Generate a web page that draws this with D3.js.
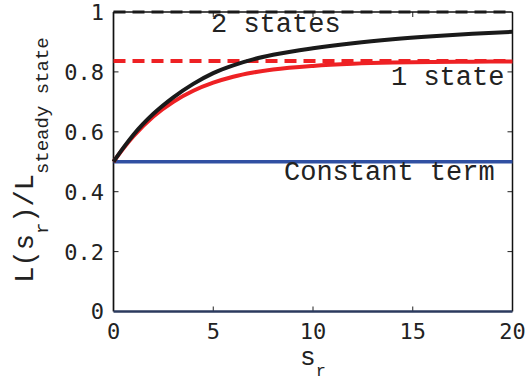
<!DOCTYPE html>
<html>
<head>
<meta charset="utf-8">
<script src="https://cdn.jsdelivr.net/npm/d3@7"></script>
<style>
  html, body { margin: 0; padding: 0; background: #fff; }
  svg { display: block; }
</style>
</head>
<body>
<svg id="chart" width="528" height="383"></svg>
<script>
// Sampled relaxation curves L(s_r)/L_steady state
const sr = [0, 0.5, 1, 2, 3, 4, 5, 6, 7, 8, 10, 12, 14, 16, 18, 20];
const twoStates = [0.5, 0.547, 0.590, 0.660, 0.715, 0.760, 0.796, 0.822, 0.842, 0.857, 0.879, 0.896, 0.909, 0.919, 0.927, 0.934];
const oneState  = [0.5, 0.545, 0.585, 0.651, 0.700, 0.737, 0.764, 0.784, 0.798, 0.808, 0.820, 0.827, 0.831, 0.833, 0.834, 0.835];
const constantTerm = 0.5;
const steadyTwo = 1.0;
const steadyOne = 0.836;
const xTicks = [0, 5, 10, 15, 20];
const yTicks = [0, 0.2, 0.4, 0.6, 0.8, 1];

const svg = d3.select("#chart");
const x = d3.scaleLinear().domain([0, 20]).range([113.5, 512.5]);
const y = d3.scaleLinear().domain([0, 1]).range([311.5, 12]);

const mono = "'Liberation Mono', 'Courier New', monospace";
const tickFont = "'DejaVu Sans Mono', monospace";

// Tick marks (inward) on all four sides
const tickLen = 5;
const g = svg.append("g");
yTicks.slice(1, -1).forEach(v => {
  g.append("line").attr("x1", x(0)).attr("x2", x(0) + tickLen).attr("y1", y(v)).attr("y2", y(v))
    .attr("stroke", "#222").attr("stroke-width", 1);
  g.append("line").attr("x1", x(20)).attr("x2", x(20) - tickLen).attr("y1", y(v)).attr("y2", y(v))
    .attr("stroke", "#222").attr("stroke-width", 1);
});
xTicks.slice(1, -1).forEach(v => {
  g.append("line").attr("x1", x(v)).attr("x2", x(v)).attr("y1", y(0)).attr("y2", y(0) - tickLen)
    .attr("stroke", "#222").attr("stroke-width", 1);
  g.append("line").attr("x1", x(v)).attr("x2", x(v)).attr("y1", y(1)).attr("y2", y(1) + tickLen)
    .attr("stroke", "#222").attr("stroke-width", 1);
});

// Tick labels
svg.append("g").selectAll("text").data(yTicks).join("text")
  .attr("x", 104).attr("y", d => y(d)).attr("dy", "0.36em")
  .attr("text-anchor", "end")
  .attr("font-family", tickFont).attr("font-size", 22).attr("fill", "#222")
  .text(d => d3.format("")(d));
svg.append("g").selectAll("text").data(xTicks).join("text")
  .attr("x", d => x(d)).attr("y", 339)
  .attr("text-anchor", "middle")
  .attr("font-family", tickFont).attr("font-size", 22).attr("fill", "#222")
  .text(d => d);

// Box
svg.append("line").attr("x1", x(0)).attr("x2", x(20)).attr("y1", y(1)).attr("y2", y(1))
  .attr("stroke", "#111").attr("stroke-width", 1.5);
svg.append("line").attr("x1", x(20)).attr("x2", x(20)).attr("y1", y(1)).attr("y2", y(0))
  .attr("stroke", "#111").attr("stroke-width", 1.5);
svg.append("line").attr("x1", x(0)).attr("x2", x(0)).attr("y1", y(1)).attr("y2", y(0))
  .attr("stroke", "#111").attr("stroke-width", 1.7);

const line = d3.line().x(d => x(d[0])).y(d => y(d[1])).curve(d3.curveMonotoneX);

// Constant term
svg.append("line").attr("x1", x(0)).attr("x2", x(20)).attr("y1", y(constantTerm)).attr("y2", y(constantTerm))
  .attr("stroke", "#3050a2").attr("stroke-width", 3.5);

// Steady-state levels (dashed)
svg.append("line").attr("x1", x(0)).attr("x2", x(20)).attr("y1", y(steadyOne)).attr("y2", y(steadyOne))
  .attr("stroke", "#ee2124").attr("stroke-width", 4).attr("stroke-dasharray", "12,7");
svg.append("line").attr("x1", x(0)).attr("x2", x(20)).attr("y1", y(steadyTwo)).attr("y2", y(steadyTwo))
  .attr("stroke", "#1a1a1a").attr("stroke-width", 3).attr("stroke-dasharray", "12,7");

// Curves
svg.append("path").datum(sr.map((s, i) => [s, oneState[i]])).attr("d", line)
  .attr("fill", "none").attr("stroke", "#ee2124").attr("stroke-width", 4);
svg.append("path").datum(sr.map((s, i) => [s, twoStates[i]])).attr("d", line)
  .attr("fill", "none").attr("stroke", "#1a1a1a").attr("stroke-width", 4);

// Bottom axis line
svg.append("line").attr("x1", x(0)).attr("x2", x(20)).attr("y1", y(0)).attr("y2", y(0))
  .attr("stroke", "#2b3a5e").attr("stroke-width", 2.5);

// Annotations
const ann = [["2 states", 211, 31.5], ["1 state", 391, 85], ["Constant term", 284, 180]];
svg.append("defs").append("clipPath").attr("id", "plotclip")
  .append("rect").attr("x", x(0)).attr("y", 0).attr("width", x(20) - x(0) - 1).attr("height", 383);
svg.append("g").attr("clip-path", "url(#plotclip)").selectAll("text").data(ann).join("text")
  .attr("x", d => d[1]).attr("y", d => d[2])
  .attr("font-family", mono).attr("font-size", 27).attr("fill", "#222")
  .text(d => d[0]);

// Axis labels
const xl = svg.append("text").attr("x", 313).attr("y", 365).attr("text-anchor", "middle")
  .attr("font-family", mono).attr("font-size", 26).attr("fill", "#222");
xl.append("tspan").text("s");
xl.append("tspan").attr("font-size", 17).attr("dy", 11).text("r");

const yl = svg.append("text").attr("transform", "translate(33,160) rotate(-90)")
  .attr("text-anchor", "middle")
  .attr("font-family", mono).attr("font-size", 27).attr("fill", "#222");
yl.append("tspan").text("L(s");
yl.append("tspan").attr("font-size", 19).attr("dy", 15).text("r");
yl.append("tspan").attr("dy", -15).text(")/L");
yl.append("tspan").attr("font-size", 19).attr("dy", 15).text("steady state");
</script>
</body>
</html>
